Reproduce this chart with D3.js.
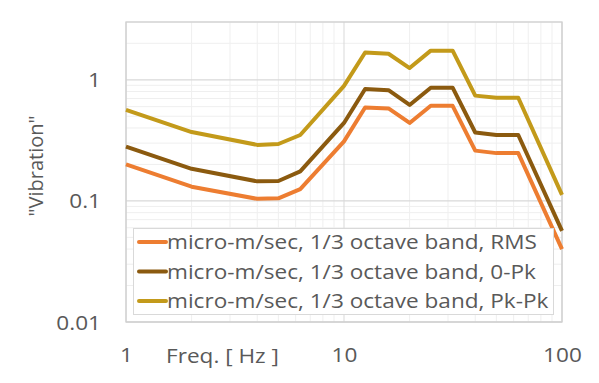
<!DOCTYPE html>
<html><head><meta charset="utf-8">
<script src="https://cdn.jsdelivr.net/npm/d3@7"></script>
<style>body{margin:0;background:#fff}svg{display:block}text{font-family:"Open Sans",sans-serif;fill:#595959}</style>
</head><body>
<svg id="c" width="599" height="383"></svg>
<script>
const freqs = [1, 2, 4, 5, 6.3, 10, 12.5, 16, 20, 25, 31.5, 40, 50, 63, 100];
const rms   = [0.20, 0.131, 0.104, 0.105, 0.125, 0.31, 0.59, 0.58, 0.44, 0.61, 0.61, 0.26, 0.248, 0.248, 0.040];
const opk   = [0.281, 0.184, 0.145, 0.146, 0.175, 0.44, 0.84, 0.82, 0.62, 0.86, 0.86, 0.367, 0.35, 0.35, 0.0565];
const pkpk  = [0.565, 0.37, 0.29, 0.295, 0.35, 0.89, 1.68, 1.64, 1.25, 1.74, 1.74, 0.74, 0.71, 0.71, 0.112];
const seriesNames = ["micro-m/sec, 1/3 octave band, RMS", "micro-m/sec, 1/3 octave band, 0-Pk", "micro-m/sec, 1/3 octave band, Pk-Pk"];
const seriesColors = ["#ED7D31", "#8B5A0F", "#C39A1A"];
const xTicks = [1, 10, 100];
const yTicks = [0.01, 0.1, 1];
const xTickLabels = ["1", "10", "100"];
const yTickLabels = ["0.01", "0.1", "1"];

const SX = 1.13; // horizontal text stretch
const svg = d3.select("#c");
const x = d3.scaleLog().domain([1, 100]).range([126, 562]);
const y = d3.scaleLog().domain([0.01, 3]).range([322, 22]);

function stretchedText(parent, tx, ty, str, anchor) {
  return parent.append("text").attr("transform", `translate(${tx},${ty}) scale(${SX},1)`)
    .attr("text-anchor", anchor || "start").attr("font-size", 20).text(str);
}

// minor grid
const xMinor = [], yMinor = [];
for (let d of [1, 10]) for (let k = 2; k <= 9; k++) xMinor.push(d * k);
for (let d of [0.01, 0.1, 1]) for (let k = 2; k <= 9; k++) { const v = d * k; if (v <= 3) yMinor.push(v); }
const g = svg.append("g");
g.selectAll(".xm").data(xMinor).join("line").attr("x1", d => x(d)).attr("x2", d => x(d)).attr("y1", 22).attr("y2", 322).attr("stroke", "#efefef").attr("stroke-width", 1);
g.selectAll(".ym").data(yMinor).join("line").attr("y1", d => y(d)).attr("y2", d => y(d)).attr("x1", 126).attr("x2", 562).attr("stroke", "#efefef").attr("stroke-width", 1);
g.selectAll(".xM").data(xTicks).join("line").attr("x1", d => x(d)).attr("x2", d => x(d)).attr("y1", 22).attr("y2", 322).attr("stroke", "#d9d9d9").attr("stroke-width", 1);
g.selectAll(".yM").data(yTicks).join("line").attr("y1", d => y(d)).attr("y2", d => y(d)).attr("x1", 126).attr("x2", 562).attr("stroke", "#d9d9d9").attr("stroke-width", 1.3);
svg.append("rect").attr("x", 126).attr("y", 22).attr("width", 436).attr("height", 300).attr("fill", "none").attr("stroke", "#d0d0d0").attr("stroke-width", 1.3);

// axes labels via d3 axes
const xAxis = d3.axisBottom(x).tickValues(xTicks).tickFormat((d, i) => xTickLabels[i]).tickSize(0).tickPadding(0);
const xa = svg.append("g").attr("transform", "translate(0,347)").call(xAxis);
xa.select(".domain").remove();
xa.selectAll("text").attr("font-size", 20).attr("font-family", "Open Sans").attr("fill", "#595959").attr("dy", "0.75em").attr("y", 0).attr("transform", `scale(${SX},1)`);
const yAxis = d3.axisLeft(y).tickValues(yTicks).tickFormat((d, i) => yTickLabels[i]).tickSize(0).tickPadding(0);
const ya = svg.append("g").attr("transform", "translate(101,0)").call(yAxis);
ya.select(".domain").remove();
ya.selectAll("text").attr("font-size", 20).attr("font-family", "Open Sans").attr("fill", "#595959").attr("dy", "0.35em").attr("x", 0).attr("transform", `scale(${SX},1)`);

stretchedText(svg, 166, 363, "Freq. [ Hz ]");
svg.append("text").attr("transform", "translate(43,166) rotate(-90)").attr("text-anchor", "middle").attr("font-size", 20).text('"Vibration"');

// lines
const all = [rms, opk, pkpk];
const line = d3.line().x((d, i) => x(freqs[i])).y(d => y(d));
const lg = svg.append("g");
[2,1,0].forEach(si => {
  lg.append("path").datum(all[si]).attr("d", line).attr("fill", "none").attr("stroke", seriesColors[si]).attr("stroke-width", 4).attr("stroke-linejoin", "round");
});

// legend
const leg = svg.append("g");
leg.append("rect").attr("x", 133.5).attr("y", 228.5).attr("width", 420).attr("height", 86).attr("fill", "#fff").attr("stroke", "#d9d9d9").attr("stroke-width", 1);
seriesNames.forEach((n, i) => {
  const cy = 242 + i * 29.5;
  leg.append("line").attr("x1", 139).attr("x2", 166).attr("y1", cy).attr("y2", cy).attr("stroke", seriesColors[i]).attr("stroke-width", 4).attr("stroke-linecap", "round");
  stretchedText(leg, 167, cy + 7, n);
});
</script>
</body></html>
